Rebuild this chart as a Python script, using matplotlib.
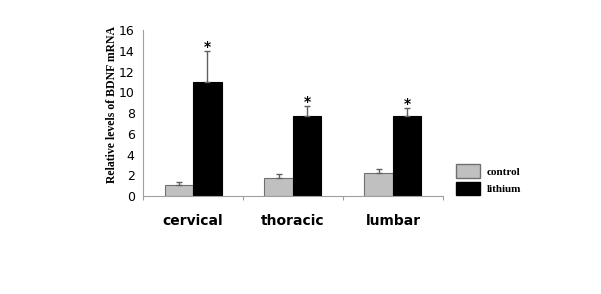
import matplotlib
matplotlib.use("Agg")
import matplotlib.pyplot as plt
import numpy as np
from matplotlib.patches import Patch

categories = ["cervical", "thoracic", "lumbar"]
control = [1.1, 1.7, 2.25]
control_err = [0.3, 0.45, 0.35]
lithium = [11.0, 7.7, 7.75]
lithium_err = [3.0, 1.0, 0.75]
y_ticks = [0, 2, 4, 6, 8, 10, 12, 14, 16]

fig = plt.figure(figsize=(6.01, 2.94), dpi=100)
ax = fig.add_axes([0.238, 0.333, 0.499, 0.565])

x = np.arange(len(categories))
w = 0.285
ax.bar(x - w / 2, control, w, color="#c0c0c0", edgecolor="#707070", linewidth=0.8,
	yerr=[np.zeros(3), control_err], error_kw=dict(ecolor="#606060", elinewidth=1, capsize=2, capthick=1))
ax.bar(x + w / 2, lithium, w, color="black", edgecolor="black", linewidth=0.8,
	yerr=[np.zeros(3), lithium_err], error_kw=dict(ecolor="#606060", elinewidth=1, capsize=2, capthick=1))

# significance stars above the lithium bars
for xi, v, e in zip(x, lithium, lithium_err):
	ax.text(xi + w / 2, v + e - 0.3, "*", ha="center", va="bottom", fontsize=10, fontweight="bold")

ax.set_xlim(-0.5, 2.5)
ax.set_ylim(0, 16)
ax.set_yticks(y_ticks)
ax.set_yticklabels([str(t) for t in y_ticks], fontsize=9)
ax.set_xticks([-0.5, 0.5, 1.5, 2.5])
ax.set_xticklabels([])
ax.tick_params(axis="x", length=3, color="#a0a0a0", direction="out")
ax.tick_params(axis="y", length=0, pad=6)

for xi, name in zip(x, categories):
	ax.text(xi, -2.4, name, ha="center", va="center", fontsize=10, fontweight="bold")

for s in ["top", "right"]:
	ax.spines[s].set_visible(False)
for s in ["left", "bottom"]:
	ax.spines[s].set_color("#a0a0a0")
	ax.spines[s].set_linewidth(0.8)

ax.set_ylabel("Relative levels of BDNF mRNA", family="Liberation Serif", fontsize=8.5, fontweight="bold")
ax.yaxis.set_label_coords(-0.085, 0.55)

handles = [Patch(facecolor="#c0c0c0", edgecolor="#707070"), Patch(facecolor="black", edgecolor="black")]
fig.legend(handles, ["control", "lithium"], loc="upper left", bbox_to_anchor=(0.742, 0.475),
	frameon=False, prop={"family": "Liberation Serif", "weight": "bold", "size": 8},
	handlelength=2.2, handleheight=1.5, labelspacing=0.35, handletextpad=0.6)

fig.savefig("out.png", dpi=100)
